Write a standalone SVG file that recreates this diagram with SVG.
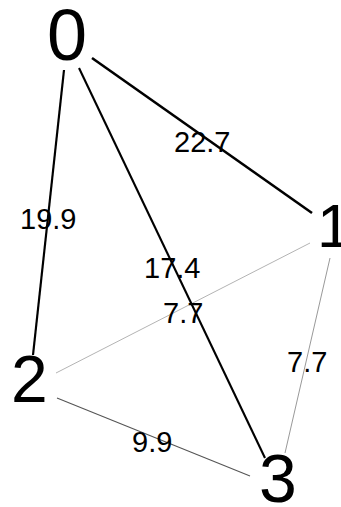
<svg xmlns="http://www.w3.org/2000/svg" width="341" height="507" viewBox="0 0 341 507">
<style>
.node{font-family:"Liberation Sans",Arial,sans-serif;fill:#000}
.lbl{font-family:"Liberation Sans",Arial,sans-serif;font-size:29px;fill:#000}
.e{stroke-linecap:butt;fill:none}
</style>
<rect width="341" height="507" fill="#fff"/>
<g id="edges">
<line class="e" x1="92" y1="58" x2="312" y2="213" stroke="#000" stroke-width="2.6"/>
<line class="e" x1="64" y1="70" x2="33" y2="355" stroke="#000" stroke-width="2.2"/>
<line class="e" x1="79" y1="68" x2="265" y2="458" stroke="#000" stroke-width="2.1"/>
<line class="e" x1="310" y1="243" x2="56" y2="373" stroke="#aaa" stroke-width="0.9"/>
<line class="e" x1="330" y1="258" x2="285" y2="453" stroke="#999" stroke-width="1"/>
<line class="e" x1="57" y1="398" x2="250" y2="476" stroke="#555" stroke-width="1.1"/>
</g>
<g id="edge-labels">
<text class="lbl" x="174" y="152">22.7</text>
<text class="lbl" x="20" y="229">19.9</text>
<text class="lbl" x="144" y="278">17.4</text>
<text class="lbl" x="163" y="323">7.7</text>
<text class="lbl" x="287" y="372">7.7</text>
<text class="lbl" x="132" y="452">9.9</text>
</g>
<g id="node0"><text class="node" x="67" y="60" font-size="72" text-anchor="middle">0</text></g>
<g id="node1"><text class="node" x="317" y="247" font-size="62">1</text></g>
<g id="node2"><text class="node" x="11" y="402" font-size="66">2</text></g>
<g id="node3"><text class="node" x="259" y="502" font-size="68">3</text></g>
</svg>
